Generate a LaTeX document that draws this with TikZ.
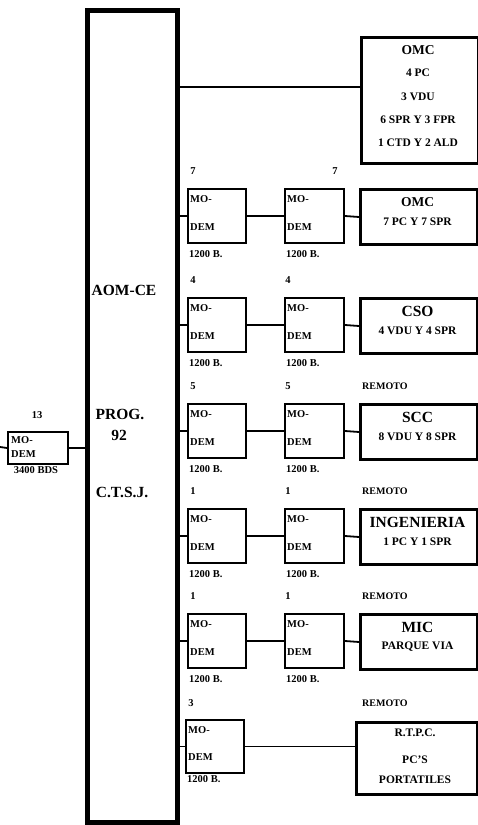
\documentclass[tikz,border=0pt]{standalone}
\usepackage{fontspec}
\setmainfont{Liberation Serif}
\tikzset{
  mainbox/.style={draw, line width=5pt, rectangle, inner sep=0pt},
  rbox/.style={draw, line width=3pt, rectangle, inner sep=0pt},
  mbox/.style={draw, line width=2pt, rectangle, inner sep=0pt},
  lbl/.style={font=\bfseries\fontsize{10.5}{12}\selectfont, inner sep=0pt},
  rlbl/.style={font=\bfseries\fontsize{10}{12}\selectfont, inner sep=0pt},
  sub/.style={font=\bfseries\fontsize{11.5}{13}\selectfont, inner sep=0pt},
  ttl/.style={font=\bfseries\fontsize{15.5}{17}\selectfont, inner sep=0pt},
  ttlsm/.style={font=\bfseries\fontsize{13.5}{15}\selectfont, inner sep=0pt},
  wire/.style={line width=1.8pt}
}
\begin{document}
\begin{tikzpicture}[x=1pt,y=-1pt]
\useasboundingbox (0,0) rectangle (478,825);

% main tall box
\node[mainbox, anchor=north west, minimum width=90pt, minimum height=812pt] (main) at (84.5,7.5) {};
\node[ttl] (mt1) at (124,290) {AOM-CE};
\node[ttl] (mt2) at (120,414) {PROG.};
\node[ttl] (mt3) at (119,435) {92};
\node[ttl] (mt4) at (122,492) {C.T.S.J.};

% left modem
\node[mbox, anchor=north west, minimum width=60pt, minimum height=32pt] (lm) at (7,431) {};
\node[lbl] (lmn) at (37,415) {13};
\node[lbl, anchor=west] (lmt1) at (11,440) {MO-};
\node[lbl, anchor=west] (lmt2) at (11,454) {DEM};
\node[lbl] (lmb) at (36,470) {3400 BDS};
\coordinate (lin) at (0,447);
\draw[wire] (lin) -- (lm.west);
\draw[wire] (lm.east) -- (main.west |- lm.east);

% top OMC
\node[rbox, anchor=north west, minimum width=117pt, minimum height=126pt] (omc0) at (360,36) {};
\node[ttlsm] (omc0a) at (418,50) {OMC};
\node[sub] (omc0b) at (418,73) {4 PC};
\node[sub] (omc0c) at (418,97) {3 VDU};
\node[sub] (omc0d) at (418,120) {6 SPR Y 3 FPR};
\node[sub] (omc0e) at (418,143) {1 CTD Y 2 ALD};
\coordinate (omcin) at (360,87);
\draw[wire] (main.east |- omcin) -- (omcin);

% rows of modems
\foreach \rT/\rA/\rB/\rX/\rTitle/\rSub/\rRem/\rSty [count=\i] in {
  188/7/7/335/OMC/{7 PC Y 7 SPR}/{}/ttlsm,
  297/4/4/288/CSO/{4 VDU Y 4 SPR}/{}/ttl,
  403/5/5/288/SCC/{8 VDU Y 8 SPR}/REMOTO/ttl,
  508/1/1/288/INGENIERIA/{1 PC Y 1 SPR}/REMOTO/ttl,
  613/1/1/288/MIC/{PARQUE VIA}/REMOTO/ttl}
{
  \node[mbox, anchor=north west, minimum width=58pt, minimum height=54pt] (ma\i) at (187,\rT) {};
  \node[mbox, anchor=north west, minimum width=59pt, minimum height=54pt] (mb\i) at (284,\rT) {};
  \node[rbox, anchor=north west, minimum width=117pt, minimum height=55pt] (dst\i) at (359,\rT) {};
  \node[lbl, anchor=west] (ma\i a) at (190,\rT+11) {MO-};
  \node[lbl, anchor=west] (ma\i b) at (190,\rT+39) {DEM};
  \node[lbl, anchor=west] (ma\i c) at (189,\rT+66) {1200 B.};
  \node[lbl, anchor=west] (mb\i a) at (287,\rT+11) {MO-};
  \node[lbl, anchor=west] (mb\i b) at (287,\rT+39) {DEM};
  \node[lbl, anchor=west] (mb\i c) at (286,\rT+66) {1200 B.};
  \node[lbl] (ma\i n) at (193,\rT-17) {\rA};
  \node[lbl] (mb\i n) at (\rX,\rT-17) {\rB};
  \node[rlbl, anchor=west] (rem\i) at (362,\rT-17) {\rRem};
  \node[\rSty] (dst\i t) at (417.5,\rT+14) {\rTitle};
  \node[sub] (dst\i s) at (417.5,\rT+34) {\rSub};
  \draw[wire] (main.east |- ma\i.west) -- (ma\i.west);
  \draw[wire] (ma\i.east) -- (mb\i.west);
  \draw[wire] (mb\i.east) -- (dst\i.west);
}

% last row: R.T.P.C.
\node[mbox, anchor=north west, minimum width=58pt, minimum height=53pt] (m6) at (185,719) {};
\node[lbl, anchor=west] (m6a) at (188,730) {MO-};
\node[lbl, anchor=west] (m6b) at (188,757) {DEM};
\node[lbl, anchor=west] (m6c) at (187,779) {1200 B.};
\node[lbl] (m6n) at (191,703) {3};
\node[rlbl, anchor=west] (rem6) at (362,703) {REMOTO};
\node[rbox, anchor=north west, minimum width=121pt, minimum height=72pt] (rtpc) at (355,721) {};
\node[sub] (rtpca) at (415,733) {R.T.P.C.};
\node[sub] (rtpcb) at (415,760) {PC'S};
\node[sub] (rtpcc) at (415,780) {PORTATILES};
\draw[wire] (main.east |- m6.west) -- (m6.west);
\draw[wire] (m6.east) -- (rtpc.west |- m6.east);
\end{tikzpicture}
\end{document}
